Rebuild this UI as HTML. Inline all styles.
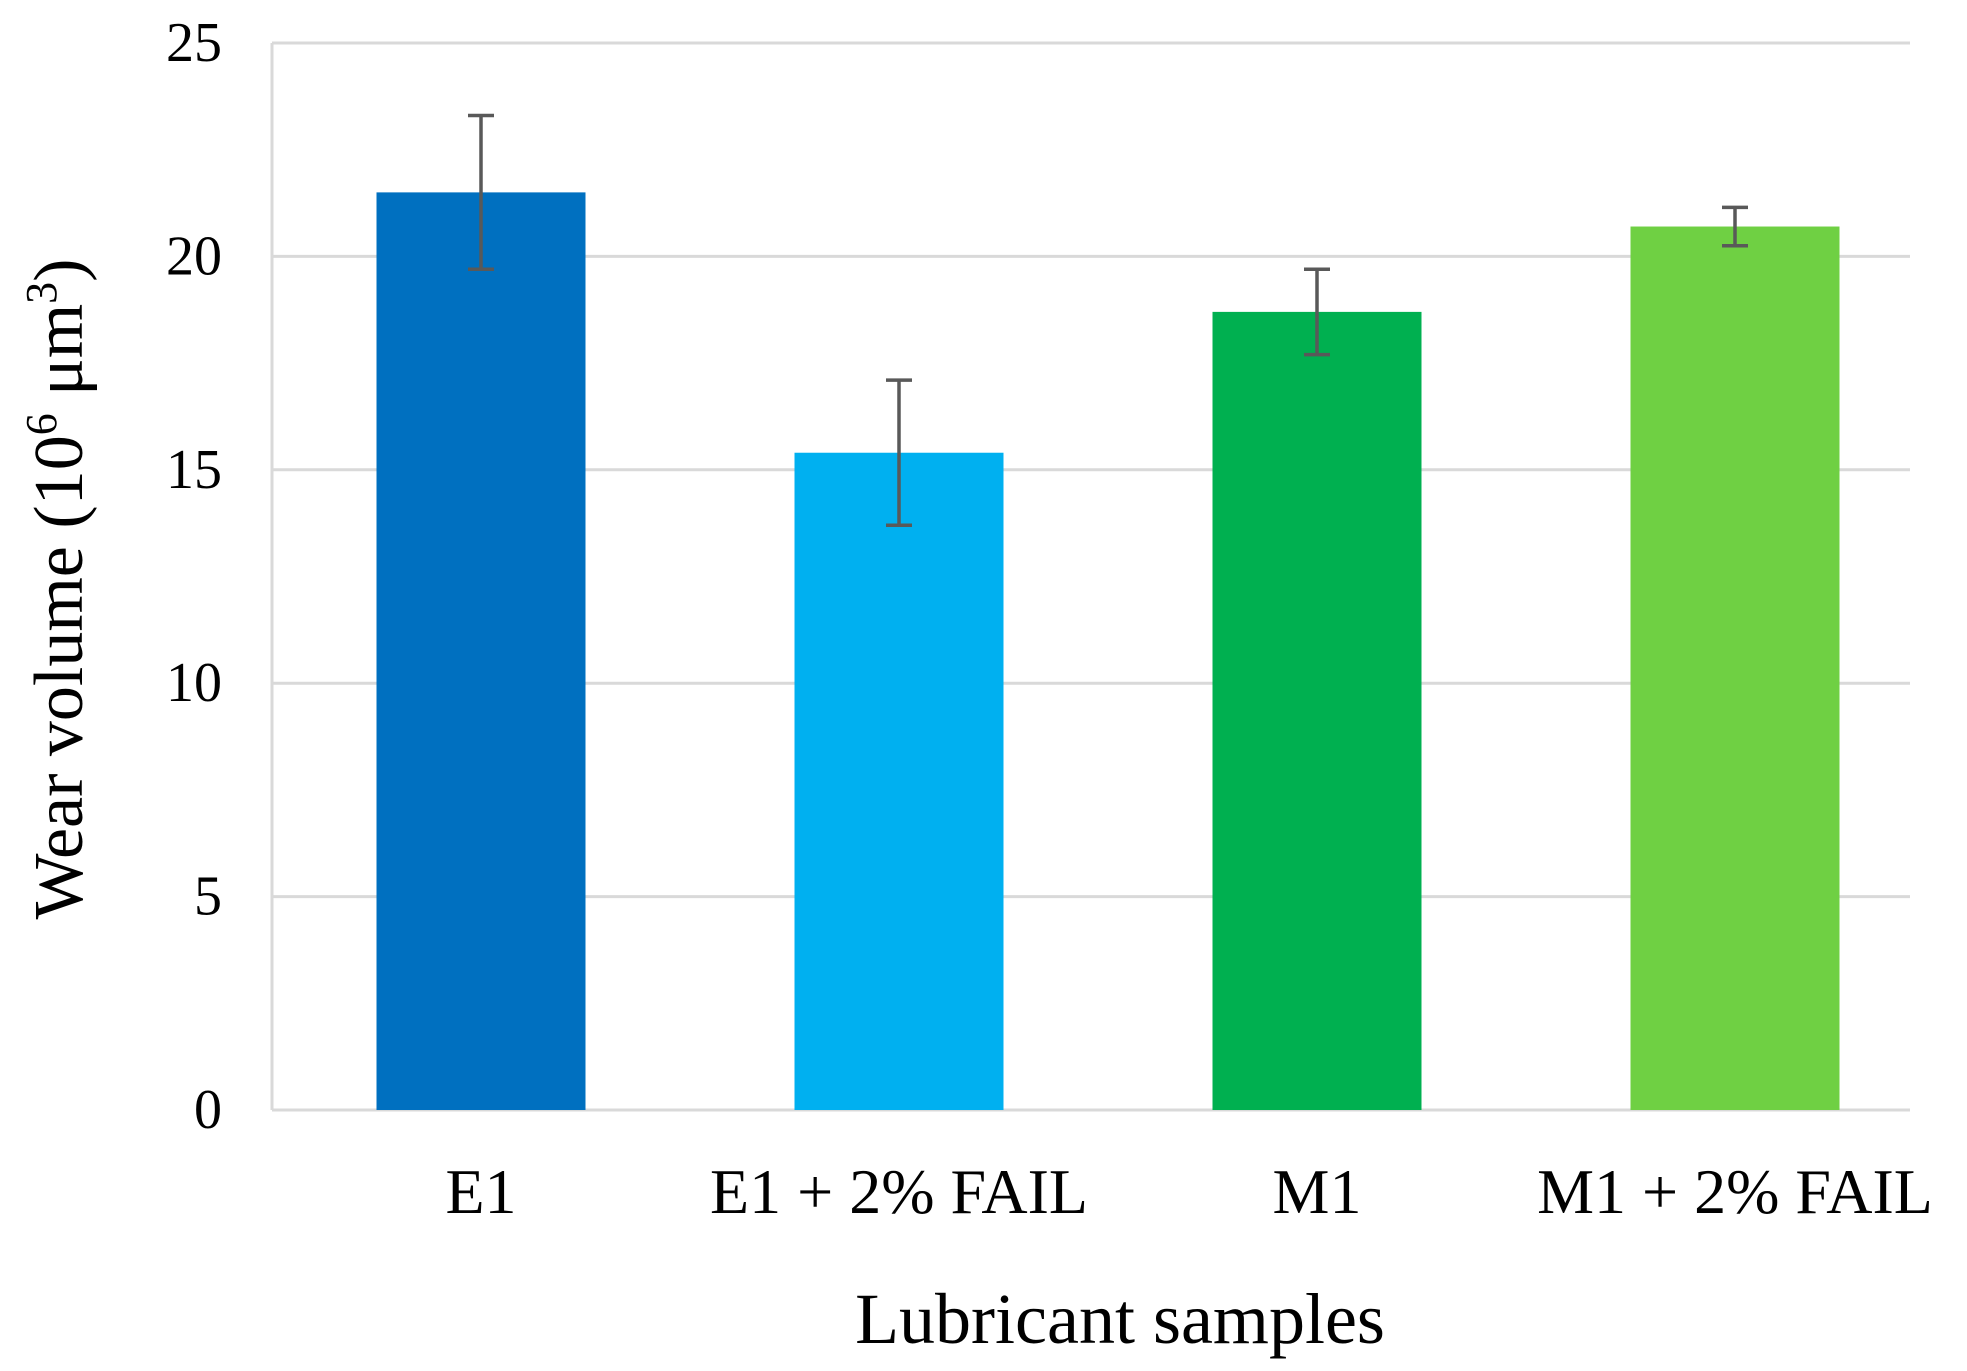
<!DOCTYPE html>
<html><head><meta charset="utf-8"><style>
html,body{margin:0;padding:0;background:#fff;}
svg{display:block;font-family:"Liberation Serif",serif;}
</style></head><body>
<svg id="chart" width="1967" height="1371" viewBox="0 0 1967 1371" xmlns="http://www.w3.org/2000/svg">
<g id="grid"></g>
<g id="bars"></g>
<g id="errs"></g>
<g id="yticks"></g>
<g id="xticks"></g>
<text transform="translate(82,589) rotate(-90)" text-anchor="middle" font-size="70" fill="#000">Wear volume (10<tspan font-size="44" dy="-26">6</tspan><tspan dy="26"> μm</tspan><tspan font-size="44" dy="-26">3</tspan><tspan dy="26">)</tspan></text>
<text x="1120" y="1343" text-anchor="middle" font-size="72" fill="#000">Lubricant samples</text>
</svg>
<script>
const categories = ["E1", "E1 + 2% FAIL", "M1", "M1 + 2% FAIL"];
const values = [21.5, 15.4, 18.7, 20.7];
const errors = [1.8, 1.7, 1.0, 0.45];
const colors = ["#0070C0", "#00B0F0", "#00B050", "#6FD043"];
const yTicks = [0, 5, 10, 15, 20, 25];

const NS = "http://www.w3.org/2000/svg";
const plotLeft = 272, plotRight = 1910, plotTop = 43, plotBottom = 1110, yMax = 25;
const catW = 418, barW = 209;
function yScale(v){ return plotBottom - (v / yMax) * (plotBottom - plotTop); }
function xc(i){ return plotLeft + catW * (i + 0.5); }
function mk(tag, attrs, parent){
  const e = document.createElementNS(NS, tag);
  for (const k in attrs) e.setAttribute(k, attrs[k]);
  parent.appendChild(e); return e;
}
const grid = document.getElementById('grid');
const yt = document.getElementById('yticks');
yTicks.forEach(t => {
  const l = mk('line', {x1:plotLeft, x2:plotRight, y1:yScale(t), y2:yScale(t), stroke:'#d9d9d9', 'stroke-width':3}, grid);
  
  
  const tx = mk('text', {x:222, y:yScale(t)+18, 'text-anchor':'end', 'font-size':56, fill:'#000'}, yt);
  tx.textContent = t;
  
  
});
const ax = mk('line', {x1:plotLeft, x2:plotLeft, y1:plotTop, y2:plotBottom, stroke:'#d9d9d9', 'stroke-width':3}, grid);


const bars = document.getElementById('bars');
const errs = document.getElementById('errs');
const xt = document.getElementById('xticks');
categories.forEach((c, i) => {
  const cx = xc(i);
  const r = mk('rect', {x:cx - barW/2, y:yScale(values[i]), width:barW, height:plotBottom - yScale(values[i]), fill:colors[i]}, bars);
  
  
  const hi = yScale(values[i] + errors[i]), lo = yScale(values[i] - errors[i]);
  const g = mk('g', {stroke:'#595959', 'stroke-width':3.5, fill:'none'}, errs);
  
  
  mk('line', {x1:cx, x2:cx, y1:hi, y2:lo}, g);
  mk('line', {x1:cx-13, x2:cx+13, y1:hi, y2:hi}, g);
  mk('line', {x1:cx-13, x2:cx+13, y1:lo, y2:lo}, g);
  const t = mk('text', {x:cx, y:1213, 'text-anchor':'middle', 'font-size':64, fill:'#000'}, xt);
  t.textContent = c;
  
  
});
</script>
</body></html>
